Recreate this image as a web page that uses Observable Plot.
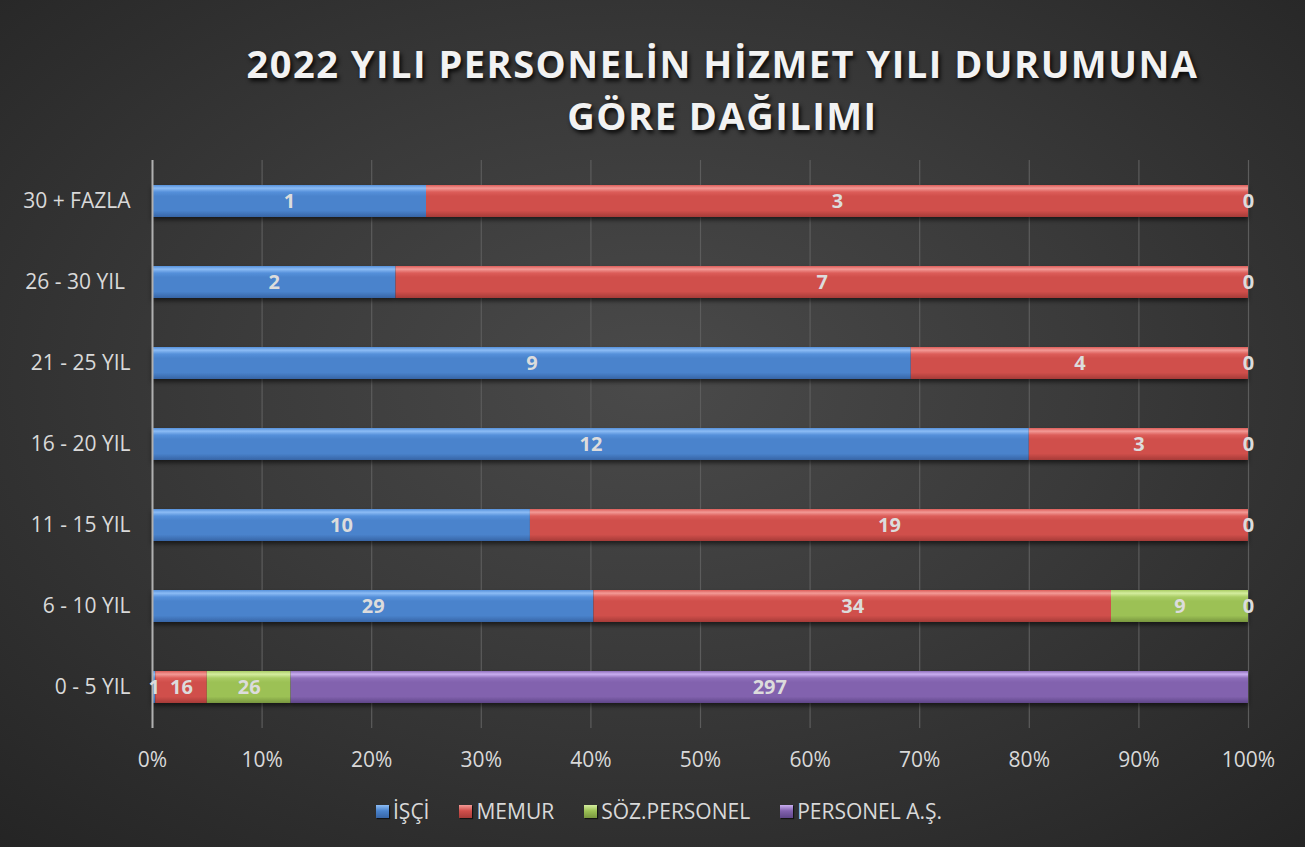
<!DOCTYPE html>
<html><head><meta charset="utf-8">
<script src="https://cdn.jsdelivr.net/npm/d3@7"></script>
<script src="https://cdn.jsdelivr.net/npm/@observablehq/plot@0.6"></script>
<style>
body{margin:0;background:#fff}
#chart{position:relative;width:1305px;height:847px;overflow:hidden;font-family:"Open Sans",sans-serif;
 background:radial-gradient(ellipse 75% 75% at 50% 45%, #4a4a4a 0%, #3a3a3a 45%, #242424 100%);}
#title{position:absolute;top:37px;left:130px;width:1185px;text-align:center;color:#f2f2f2;font-weight:700;font-size:38px;line-height:52px;letter-spacing:1.5px;text-shadow:2px 3px 4px rgba(0,0,0,.85)}
#plot{position:absolute;left:0;top:140px}
#plot svg g[aria-label="bar"]{filter:drop-shadow(0 3px 2px rgba(0,0,0,.55))}
#legend{position:absolute;top:797px;left:0;width:1318px;display:flex;justify-content:center;gap:30px;color:#d9d9d9;font-size:21px}
#legend .it{display:flex;align-items:center;gap:4px}
#legend .sw{width:13px;height:13px;box-shadow:1px 1px 1px rgba(0,0,0,.6)}
</style></head>
<body><div id="chart"><div id="title">2022 YILI PERSONELİN HİZMET YILI DURUMUNA<br>GÖRE DAĞILIMI</div><div id="plot"></div><div id="legend"></div></div>
<script>
const categories = ["30 + FAZLA","26 - 30 YIL\u00a0","21 - 25 YIL","16 - 20 YIL","11 - 15 YIL","6 - 10 YIL","0 - 5 YIL"];
const series = ["İŞÇİ","MEMUR","SÖZ.PERSONEL","PERSONEL A.Ş."];
const isci   = [1, 2, 9, 12, 10, 29, 1];
const memur  = [3, 7, 4, 3, 19, 34, 16];
const soz    = [null, null, null, null, null, 9, 26];
const pas    = [0, 0, 0, 0, 0, 0, 297];
const xTicks = [0,0.1,0.2,0.3,0.4,0.5,0.6,0.7,0.8,0.9,1];

const colors = {
  "İŞÇİ": ["#8cbcf5","#5590da","#4a83cc","#3765a6"],
  "MEMUR": ["#f39a96","#dc5d59","#d04f4b","#a63b38"],
  "SÖZ.PERSONEL": ["#d4ed9f","#a9cc64","#9cc155","#78963f"],
  "PERSONEL A.Ş.": ["#c9aef0","#8e6fbb","#8262ae","#5f4689"]
};
const gid = s => "g" + series.indexOf(s);

const cols = [isci, memur, soz, pas];
const rows = [];
categories.forEach((c, i) => {
  series.forEach((s, j) => {
    const v = cols[j][i];
    if (v !== null) rows.push({cat: c, series: s, value: v});
  });
});

const plot = Plot.plot({
  width: 1305, height: 640,
  marginTop: 20, marginBottom: 52, marginLeft: 152, marginRight: 57,
  style: {background: "transparent", color: "#d9d9d9", fontSize: "21px", fontFamily: "Open Sans"},
  x: {domain: [0, 1]},
  y: {domain: categories, paddingInner: 0.6, paddingOuter: 0.3},
  color: {domain: series, range: series.map(s => `url(#${gid(s)})`)},
  marks: [
    Plot.gridX(xTicks, {stroke: "#5c5c5c", strokeOpacity: 1, strokeWidth: 1.2}),
    Plot.barX(rows, Plot.stackX({x: "value", y: "cat", fill: "series", z: "series", offset: "normalize"})),
    Plot.ruleX([0], {stroke: "#b0b0b0", strokeWidth: 2}),
    Plot.text(rows, Plot.stackX({x: "value", y: "cat", z: "series", text: d => String(d.value), offset: "normalize",
      fill: "#dcdcdc", fontWeight: "bold", fontSize: 20})),
    Plot.axisX({ticks: xTicks, tickFormat: d => Math.round(d * 100) + "%", tickSize: 0, tickPadding: 24, label: null, fontSize: 21}),
    Plot.axisY({tickSize: 0, tickPadding: 22, label: null, fontSize: 21})
  ]
});
document.getElementById("plot").appendChild(plot);

const svg = d3.select(plot);
const defs = svg.insert("defs", ":first-child");
series.forEach(s => {
  const [hi, top, mid, bot] = colors[s];
  const g = defs.append("linearGradient").attr("id", gid(s)).attr("x1", 0).attr("y1", 0).attr("x2", 0).attr("y2", 1);
  [[0, top],[0.1, hi],[0.22, top],[0.35, mid],[0.8, mid],[1, bot]].forEach(([o, c]) =>
    g.append("stop").attr("offset", o).attr("stop-color", c));
});

const leg = d3.select("#legend");
series.forEach(s => {
  const [hi, top, mid, bot] = colors[s];
  const it = leg.append("div").attr("class", "it");
  it.append("div").attr("class", "sw").style("background", `linear-gradient(${hi}, ${mid} 45%, ${bot})`);
  it.append("span").text(s);
});
</script></body></html>
